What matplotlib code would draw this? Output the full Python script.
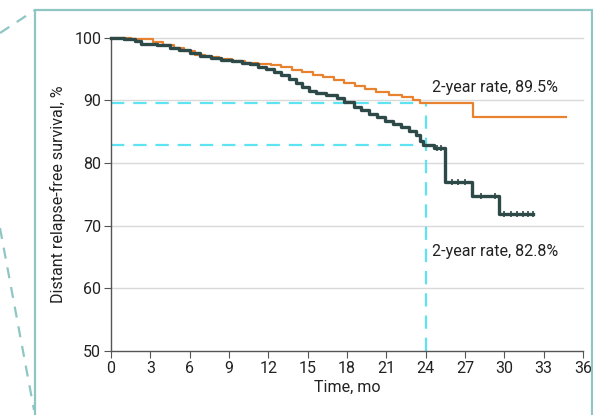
import numpy as np
import matplotlib.pyplot as plt
from matplotlib.patches import Rectangle
from matplotlib.lines import Line2D

# ── Data ──────────────────────────────────────────────────
orange_t = [0, 1.5, 3.2, 4.0, 4.8, 5.6, 6.4, 7.2, 8.2, 9.2, 10.2, 11.2, 12.2,
            13.0, 13.8, 14.6, 15.4, 16.2, 17.0, 17.8, 18.6, 19.4, 20.2, 21.2,
            22.2, 23.0, 23.6, 27.6]
orange_v = [100, 99.8, 99.3, 98.9, 98.4, 97.9, 97.3, 96.9, 96.6, 96.3, 96.0,
            95.8, 95.6, 95.3, 94.9, 94.5, 94.1, 93.7, 93.3, 92.8, 92.3, 91.8,
            91.3, 90.9, 90.5, 90.1, 89.5, 87.4]
orange_end = 34.7

dark_t = [0, 1.0, 1.8, 2.3, 3.5, 4.5, 5.2, 6.0, 6.8, 7.6, 8.4, 9.2, 10.0,
          10.6, 11.2, 11.8, 12.4, 13.0, 13.6, 14.1, 14.6, 15.1, 15.6, 16.4,
          17.2, 17.8, 18.5, 19.1, 19.7, 20.3, 20.9, 21.5, 22.1, 22.7, 23.3,
          23.6, 23.8, 24.6, 25.5, 27.5, 29.6]
dark_v = [100, 99.8, 99.4, 99.0, 98.8, 98.4, 98.0, 97.5, 97.0, 96.7, 96.5,
          96.3, 96.0, 95.8, 95.4, 95.0, 94.5, 94.0, 93.4, 92.8, 92.2, 91.5,
          91.1, 90.8, 90.3, 89.7, 89.0, 88.4, 87.9, 87.3, 86.7, 86.2, 85.7,
          85.1, 84.4, 83.5, 82.8, 82.4, 77.0, 74.7, 71.8]
dark_end = 32.2
dark_censor_t = [24.9, 25.2, 26.0, 26.5, 27.0, 28.2, 29.3, 30.0, 30.5, 31.0,
                 31.4, 31.8, 32.2]

rate_month = 24
rate_orange = 89.5
rate_dark = 82.8
x_ticks = list(range(0, 37, 3))
y_ticks = [50, 60, 70, 80, 90, 100]

ORANGE = "#E8822F"
DARK = "#2D4A49"
CYAN = "#5EE3F2"
FRAME = "#8EC6C3"
GRID = "#D9D9D9"
AXIS = "#555555"
TEXT = "#222222"
FS = 11.5

plt.rcParams['font.family'] = ['Roboto', 'DejaVu Sans']

fig = plt.figure(figsize=(5.93, 4.15), dpi=100)

# ── Inset frame and zoom lines ─────────────────────────────
fig.patches.append(Rectangle((35 / 593, -0.05), 557 / 593, 1.05 - 10 / 415,
                             transform=fig.transFigure, fill=False,
                             edgecolor=FRAME, linewidth=1.6))
fig.lines.append(Line2D([0, 35 / 593], [1 - 33 / 415, 1 - 10 / 415],
                        transform=fig.transFigure, color=FRAME, lw=1.6,
                        ls=(0, (5, 4))))
fig.lines.append(Line2D([0, 34 / 593], [1 - 228 / 415, 1 - 410 / 415],
                        transform=fig.transFigure, color=FRAME, lw=1.6,
                        ls=(0, (5, 4))))

ax = fig.add_axes([111 / 593, 1 - 351 / 415, 472 / 593, 313.3 / 415])

# ── Grid ───────────────────────────────────────────────────
for yv in y_ticks[1:]:
    ax.axhline(yv, color=GRID, lw=1, zorder=0, clip_on=False)

# ── Reference dashed lines ─────────────────────────────────
dash = (0, (6, 4))
ax.plot([0, rate_month], [rate_orange, rate_orange], color=CYAN, lw=1.6, ls=dash, zorder=1)
ax.plot([0, rate_month], [rate_dark, rate_dark], color=CYAN, lw=1.6, ls=dash, zorder=1)
ax.plot([rate_month, rate_month], [50, rate_orange], color=CYAN, lw=1.6, ls=dash, zorder=1)

# ── Curves ─────────────────────────────────────────────────
ax.step(orange_t + [orange_end], orange_v + [orange_v[-1]], where='post',
        color=ORANGE, lw=1.6, zorder=3, clip_on=False)
ax.step(dark_t + [dark_end], dark_v + [dark_v[-1]], where='post',
        color=DARK, lw=2.4, zorder=4, clip_on=False)

idx = np.searchsorted(dark_t, dark_censor_t, side='right') - 1
censor_v = np.array(dark_v)[idx]
ax.plot(dark_censor_t, censor_v, ls='none', marker='|', ms=4, mew=1.2,
        color=DARK, zorder=5, clip_on=False)

# ── Annotations ────────────────────────────────────────────
ax.text(24.45, 92.0, f"2-year rate, {rate_orange}%", fontsize=FS,
        color=TEXT, va='center', ha='left')
ax.text(24.45, 65.9, f"2-year rate, {rate_dark}%", fontsize=FS,
        color=TEXT, va='center', ha='left')

# ── Axes styling ───────────────────────────────────────────
ax.set_xlim(0, 36)
ax.set_ylim(50, 100)
ax.set_xticks(x_ticks)
ax.set_yticks(y_ticks)
ax.tick_params(labelsize=FS, colors=TEXT, length=5, color=AXIS, pad=2)
for s in ['top', 'right']:
    ax.spines[s].set_visible(False)
for s in ['left', 'bottom']:
    ax.spines[s].set_color(AXIS)
    ax.spines[s].set_linewidth(1)
ax.set_xlabel("Time, mo", fontsize=FS, color=TEXT, labelpad=3)
ax.set_ylabel("Distant relapse-free survival, %", fontsize=FS,
              color=TEXT, labelpad=6)
ax.set_facecolor('none')

fig.savefig("out.png", dpi=100)
